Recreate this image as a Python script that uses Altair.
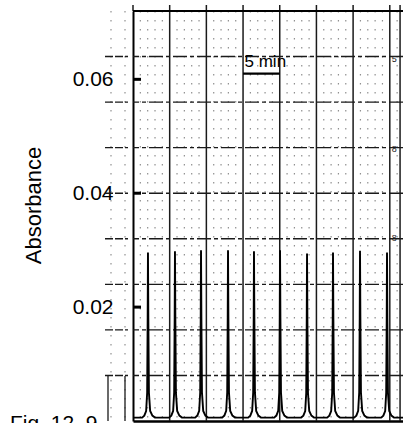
import altair as alt
import pandas as pd

# ---- data ----
peak_times = [2.04, 5.72, 9.27, 12.95, 16.49, 20.04, 23.72, 27.26, 30.94, 34.62]   # min
peak_heights = [0.0296, 0.0298, 0.0300, 0.0300, 0.0298, 0.0300, 0.0294, 0.0296, 0.0299, 0.0296]
baseline = 0.0006
profile_offsets = [-0.80, -0.50, -0.25, -0.11, -0.04, 0.0, 0.05, 0.13, 0.30, 0.60, 0.95]
profile_fracs = [0.0, 0.012, 0.04, 0.15, 0.6, 1.0, 0.6, 0.15, 0.04, 0.012, 0.0]

y_ticks = [0.02, 0.04, 0.06]
major_h = [0.008, 0.016, 0.024, 0.032, 0.040, 0.048, 0.056, 0.064]
major_v = [5, 10, 15, 20, 25, 30, 35, 36.4]
minor_v = [1, 2, 3, 4, 6, 7, 8, 9, 11, 12, 13, 14, 16, 17, 18, 19, 21, 22, 23, 24,
           26, 27, 28, 29, 31, 32, 33, 34, 36]
top_line = [0.072]
scale_bar = [15.0, 20.0]
scale_bar_y = 0.0610
scale_label = "5 min"
caption = "Fig. 12. 9"
paper_marks = [(35.6, 0.0635, "5"), (35.6, 0.0478, "8"), (35.6, 0.0322, "8")]

X_DOMAIN = [0, 36.8]
Y_DOMAIN = [0, 0.072]
FONT = "Liberation Sans"

# ---- build tables ----
pts = [(0.0, baseline)]
for t, h in zip(peak_times, peak_heights):
    for o, f in zip(profile_offsets, profile_fracs):
        pts.append((t + o, baseline + f * (h - baseline)))
pts.append((X_DOMAIN[1], baseline))
trace = pd.DataFrame(pts, columns=["t", "a"])

xs = alt.Scale(domain=X_DOMAIN, nice=False, zero=False)
ys = alt.Scale(domain=Y_DOMAIN, nice=False, zero=False)
xax = alt.Axis(labels=False, ticks=False, title=None, grid=False,
               domainColor="black", domainWidth=2.5)
yax = alt.Axis(values=y_ticks, format=".2f", tickSize=0, labelPadding=20,
               labelFontSize=21, labelFont=FONT, labelColor="black",
               labelBaseline="middle", grid=False, domainColor="black",
               domainWidth=2, title="Absorbance", titleFont=FONT,
               titleFontSize=22, titleFontWeight="normal", titleColor="black",
               titleX=-93, titleY=194, titleAngle=270, titleAlign="center",
               titleBaseline="alphabetic")

X = lambda f="t": alt.X(f"{f}:Q", scale=xs, axis=xax)
Y = lambda f="a": alt.Y(f"{f}:Q", scale=ys, axis=yax)

minor = alt.Chart(pd.DataFrame({"t": minor_v})).mark_rule(
    color="#555", strokeWidth=1.2, strokeDash=[1.5, 7.5], opacity=0.65
).encode(x=X())

vgrid = alt.Chart(pd.DataFrame({"t": major_v})).mark_rule(
    color="#1a1a1a", strokeWidth=1.5
).encode(x=X())

vgrid_top = alt.Chart(pd.DataFrame({"t": [0] + major_v})).mark_rule(
    color="#1a1a1a", strokeWidth=1.5
).encode(x=X(), y=alt.value(-6), y2=alt.value(0))

hgrid = alt.Chart(pd.DataFrame({"a": major_h})).mark_rule(
    color="#1a1a1a", strokeWidth=1.4, strokeDash=[14, 3, 4, 3]
).encode(y=Y())

hgrid_left = alt.Chart(pd.DataFrame({"a": major_h})).mark_rule(
    color="#1a1a1a", strokeWidth=1.4, strokeDash=[8, 2]
).encode(y=Y(), x=alt.value(-28), x2=alt.value(-5))

left_dots = alt.Chart(pd.DataFrame({"x": [-22, -8]})).mark_rule(
    color="#555", strokeWidth=1.2, strokeDash=[1.5, 7.5], opacity=0.65
).encode(x=alt.X("x:Q", scale=None), y=alt.value(0), y2=alt.value(410))

left_box = alt.Chart(pd.DataFrame({"x": [-25, -8]})).mark_rule(
    color="#1a1a1a", strokeWidth=1.3
).encode(x=alt.X("x:Q", scale=None), y=alt.value(365), y2=alt.value(410))

top = alt.Chart(pd.DataFrame({"a": top_line})).mark_rule(
    color="black", strokeWidth=2.2
).encode(y=Y())

ticks = alt.Chart(pd.DataFrame({"a": y_ticks})).mark_rule(
    color="black", strokeWidth=3
).encode(y=Y(), x=alt.value(0), x2=alt.value(8))

line = alt.Chart(trace).mark_line(color="black", strokeWidth=1.9).encode(
    x=X(), y=Y()
)

bar = alt.Chart(pd.DataFrame({"t": [scale_bar[0]], "t2": [scale_bar[1]],
                              "a": [scale_bar_y]})).mark_rule(
    color="black", strokeWidth=2.2
).encode(x=X(), x2="t2:Q", y=Y())

label = alt.Chart(pd.DataFrame({"t": [scale_bar[0] + 0.2], "a": [scale_bar_y + 0.0011],
                                "s": [scale_label]})).mark_text(
    align="left", baseline="alphabetic", font=FONT, fontSize=17, color="black"
).encode(x=X(), y=Y(), text="s:N")

marks = alt.Chart(pd.DataFrame(paper_marks, columns=["t", "a", "s"])).mark_text(
    align="center", baseline="middle", font=FONT, fontSize=9, color="#222"
).encode(x=X(), y=Y(), text="s:N")

cap = alt.Chart(pd.DataFrame({"s": [caption]})).mark_text(
    align="left", baseline="alphabetic", font=FONT, fontSize=21, color="black"
).encode(x=alt.value(-123), y=alt.value(419), text="s:N")

chart = alt.layer(
    minor, left_dots, left_box, vgrid, vgrid_top, hgrid, hgrid_left, top, ticks,
    line, bar, label, marks, cap
).properties(
    width=270, height=410,
    autosize=alt.AutoSizeParams(type="none"),
    padding={"left": 133, "top": 11, "right": 0, "bottom": 2},
    background="white",
).configure_view(stroke=None)

chart.save("out.html", embed_options={"renderer": "svg", "actions": False})
